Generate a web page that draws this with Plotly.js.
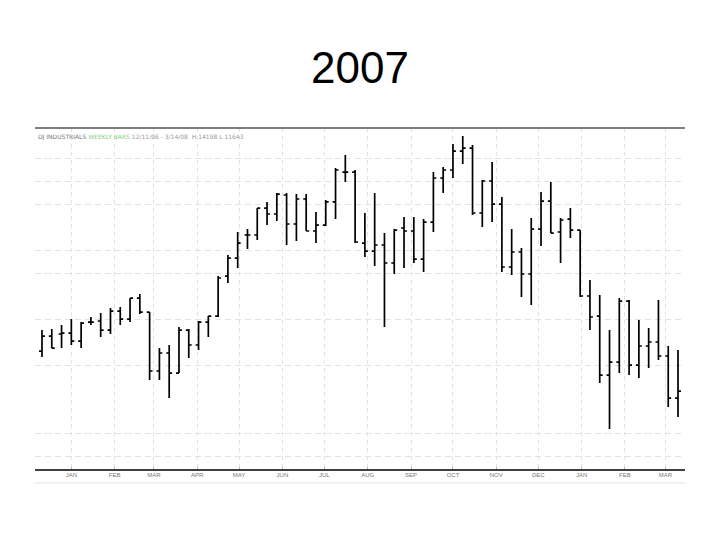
<!DOCTYPE html>
<html>
<head>
<meta charset="utf-8">
<script src="https://cdn.plot.ly/plotly-3.0.1.min.js"></script>
<style>html,body{margin:0;padding:0;background:#fff;}#chart{width:720px;height:540px;}</style>
</head>
<body>
<div id="chart"></div>
<script>
const dates = ["2006-12-11","2006-12-18","2006-12-25","2007-01-01","2007-01-08","2007-01-15","2007-01-22","2007-01-29","2007-02-05","2007-02-12","2007-02-19","2007-02-26","2007-03-05","2007-03-12","2007-03-19","2007-03-26","2007-04-02","2007-04-09","2007-04-16","2007-04-23","2007-04-30","2007-05-07","2007-05-14","2007-05-21","2007-05-28","2007-06-04","2007-06-11","2007-06-18","2007-06-25","2007-07-02","2007-07-09","2007-07-16","2007-07-23","2007-07-30","2007-08-06","2007-08-13","2007-08-20","2007-08-27","2007-09-03","2007-09-10","2007-09-17","2007-09-24","2007-10-01","2007-10-08","2007-10-15","2007-10-22","2007-10-29","2007-11-05","2007-11-12","2007-11-19","2007-11-26","2007-12-03","2007-12-10","2007-12-17","2007-12-24","2007-12-31","2008-01-07","2008-01-14","2008-01-21","2008-01-28","2008-02-04","2008-02-11","2008-02-18","2008-02-25","2008-03-03","2008-03-10"];
const opens  = [12323,12454,12472,12480,12410,12576,12585,12506,12672,12602,12785,12663,12149,12306,12131,12506,12376,12576,12628,12977,13134,13335,13335,13570,13518,13684,13431,13649,13370,13422,13623,13884,13884,13265,13195,13248,13091,13396,13370,13125,13448,13832,13902,14067,14093,13527,13806,13605,13056,13187,12995,13387,13631,13361,13474,13378,12803,12628,12114,12227,12759,12201,12367,12402,12280,11913];
const highs  = [12506,12515,12550,12602,12576,12620,12655,12698,12707,12785,12820,12663,12349,12376,12533,12515,12585,12628,12977,13160,13361,13387,13570,13623,13701,13701,13692,13692,13535,13640,13919,14032,13902,13527,13701,13352,13387,13492,13492,13474,13884,13928,14128,14198,14120,13814,13971,13666,13387,13221,13483,13710,13797,13483,13570,13378,12942,12812,12506,12785,12768,12594,12524,12768,12367,12332];
const lows   = [12271,12349,12349,12376,12349,12550,12445,12472,12550,12576,12646,12070,12070,11913,12131,12262,12332,12445,12620,12916,13047,13213,13291,13422,13457,13248,13283,13370,13265,13413,13474,13797,13265,13143,13064,12533,12995,13047,13091,13012,13361,13701,13832,13954,13509,13405,13448,13012,12986,12794,12724,13239,13352,13091,13309,12794,12506,12044,11643,12131,12114,12088,12175,12245,11835,11748];
const closes = [12454,12349,12480,12410,12567,12576,12506,12672,12602,12785,12663,12149,12306,12131,12506,12376,12576,12628,12960,13134,13265,13335,13570,13518,13692,13431,13649,13370,13422,13623,13902,13884,13274,13195,13248,13091,13378,13370,13125,13448,13832,13902,14067,14093,13527,13806,13605,13056,13187,12995,13387,13631,13352,13466,13378,12803,12620,12114,12227,12759,12201,12367,12402,12280,11913,11974];

const monthTicks  = ["2007-01-01","2007-02-01","2007-03-01","2007-04-01","2007-05-01","2007-06-01","2007-07-01","2007-08-01","2007-09-01","2007-10-01","2007-11-01","2007-12-01","2008-01-01","2008-02-01","2008-03-01"];
const monthLabels = ["JAN","FEB","MAR","APR","MAY","JUN","JUL","AUG","SEP","OCT","NOV","DEC","JAN","FEB","MAR"];
const gridLevels  = [11400,11600,12200,12600,13000,13200,13600,13800,14000];

const trace = {
  type: "ohlc",
  x: dates, open: opens, high: highs, low: lows, close: closes,
  increasing: {line: {color: "#000", width: 1.7}},
  decreasing: {line: {color: "#000", width: 1.7}},
  tickwidth: 0.3,
  hoverinfo: "skip",
  showlegend: false
};

const layout = {
  width: 720, height: 540,
  margin: {l: 35, r: 35, t: 128, b: 70},
  paper_bgcolor: "#fff", plot_bgcolor: "#fff",
  font: {family: "Liberation Sans, Arial, sans-serif", color: "#000"},
  title: {text: "2007", font: {size: 44, color: "#000", family: "Liberation Sans, Arial, sans-serif"},
          x: 0.5, xanchor: "center", y: 0.874, yanchor: "middle", yref: "container"},
  xaxis: {
    type: "date",
    range: ["2006-12-06", "2008-03-15"],
    rangeslider: {visible: false},
    tickvals: monthTicks, ticktext: monthLabels,
    tickfont: {size: 6, color: "#777"},
    ticks: "inside", ticklen: 3, tickcolor: "#bbb",
    showgrid: true, gridcolor: "#e2e2e2", griddash: "4px,4px", gridwidth: 1,
    showline: false, zeroline: false, fixedrange: true
  },
  yaxis: {
    range: [11286, 14268],
    tickvals: gridLevels,
    showticklabels: false,
    showgrid: true, gridcolor: "#e2e2e2", griddash: "6px,4px", gridwidth: 1,
    zeroline: false, showline: false, ticks: "", fixedrange: true
  },
  shapes: [
    {type: "line", xref: "paper", yref: "paper", x0: 0, x1: 1, y0: 1, y1: 1, line: {color: "#555", width: 1.5}},
    {type: "line", xref: "paper", yref: "paper", x0: 0, x1: 1, y0: 0, y1: 0, line: {color: "#000", width: 1.5}},
    {type: "line", xref: "paper", yref: "paper", x0: 0, x1: 1, y0: -0.038, y1: -0.038, line: {color: "#e4e4e4", width: 1}}
  ],
  annotations: [
    {xref: "paper", yref: "paper", x: 0.002, y: 0.992, xanchor: "left", yanchor: "top", showarrow: false,
     text: "<span style='color:#777'>DJ INDUSTRIALS</span> <span style='color:#8c8'>WEEKLY BARS</span> <span style='color:#999'>12/11/06 - 3/14/08  H 14198 L 11643</span>",
     font: {size: 6, family: "DejaVu Sans, sans-serif"}}
  ]
};

Plotly.newPlot("chart", [trace], layout, {staticPlot: true, displayModeBar: false});
</script>
</body>
</html>
